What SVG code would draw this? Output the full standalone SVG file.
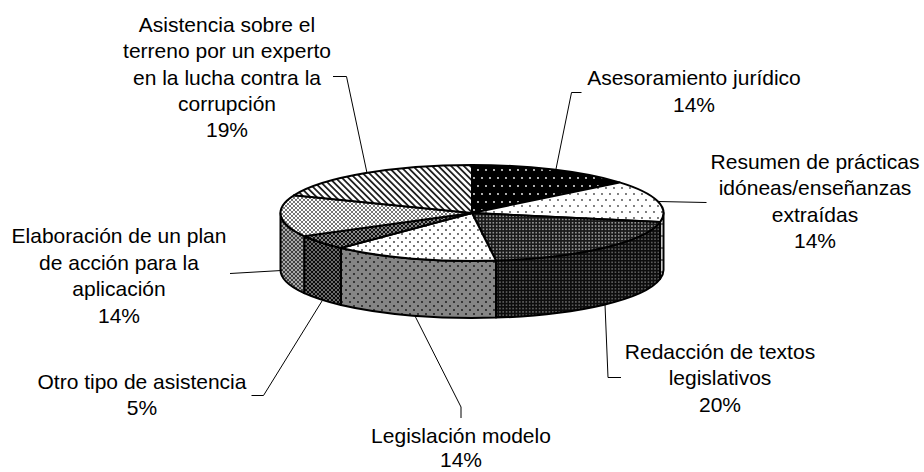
<svg xmlns="http://www.w3.org/2000/svg" width="924" height="472" viewBox="0 0 924 472">
<style>
text{font-family:"Liberation Sans",Arial,sans-serif;font-size:21px;fill:#000;text-anchor:middle}
.lead{fill:none;stroke:#000;stroke-width:1}
.face{stroke:#000;stroke-width:2;stroke-linejoin:round}
</style>
<defs>
<pattern id="pAses" width="8" height="16" patternUnits="userSpaceOnUse">
<rect width="8" height="16" fill="#000"/>
<circle cx="2" cy="2" r="0.9" fill="#fff"/>
<circle cx="6" cy="10" r="0.9" fill="#fff"/>
</pattern>
<pattern id="pRes" width="8" height="12" patternUnits="userSpaceOnUse">
<rect width="8" height="12" fill="#fff"/>
<circle cx="2" cy="2" r="0.9" fill="#444"/>
<circle cx="6" cy="8" r="0.9" fill="#444"/>
</pattern>
<pattern id="pRedTop" width="3.3" height="3.3" patternUnits="userSpaceOnUse">
<rect width="3.3" height="3.3" fill="#1a1a1a"/>
<rect x="0.9" y="0.9" width="1.5" height="1.5" fill="#aaa"/>
</pattern>
<pattern id="pRedSide" width="3.3" height="3.3" patternUnits="userSpaceOnUse">
<rect width="3.3" height="3.3" fill="#0d0d0d"/>
<rect x="0.9" y="0.9" width="1.5" height="1.5" fill="#6a6a6a"/>
</pattern>
<pattern id="pLegTop" width="8" height="8" patternUnits="userSpaceOnUse">
<rect width="8" height="8" fill="#fff"/>
<circle cx="2" cy="2" r="0.9" fill="#333"/>
<circle cx="6" cy="6" r="0.9" fill="#333"/>
</pattern>
<pattern id="pLegSide" width="8" height="8" patternUnits="userSpaceOnUse">
<rect width="8" height="8" fill="#858585"/>
<circle cx="2" cy="2" r="0.9" fill="#111"/>
<circle cx="6" cy="6" r="0.9" fill="#111"/>
</pattern>
<pattern id="pElabTop" width="4" height="4" patternUnits="userSpaceOnUse">
<rect width="4" height="4" fill="#fff"/>
<path d="M0,0 L4,4 M4,0 L0,4" stroke="#666" stroke-width="0.9"/>
</pattern>
<pattern id="pElabSide" width="4" height="4" patternUnits="userSpaceOnUse">
<rect width="4" height="4" fill="#a8a8a8"/>
<path d="M0,0 L4,4 M4,0 L0,4" stroke="#333" stroke-width="0.9"/>
</pattern>
<pattern id="pOtroTop" width="4" height="4" patternUnits="userSpaceOnUse">
<rect width="4" height="4" fill="#888"/>
<path d="M0,0 L4,4 M4,0 L0,4" stroke="#111" stroke-width="1"/>
</pattern>
<pattern id="pOtroSide" width="4" height="4" patternUnits="userSpaceOnUse">
<rect width="4" height="4" fill="#6a6a6a"/>
<path d="M0,0 L4,4 M4,0 L0,4" stroke="#0a0a0a" stroke-width="1"/>
</pattern>
<pattern id="pAsis" width="4.5" height="4.5" patternUnits="userSpaceOnUse" patternTransform="rotate(45)">
<rect width="4.5" height="4.5" fill="#fff"/>
<rect width="4.5" height="1.8" fill="#222"/>
</pattern>
</defs>

<g id="sides">
<path class="face" fill="url(#pRes)" d="M663.5,213 A191.5,48 0 0 1 660.11,222 L660.11,279 A191.5,48 0 0 0 663.5,270 Z"/>
<path class="face" fill="url(#pRedSide)" d="M660.11,222 A191.5,48 0 0 1 496,260.62 L496,317.62 A191.5,48 0 0 0 660.11,279 Z"/>
<path class="face" fill="url(#pLegSide)" d="M496,260.62 A191.5,48 0 0 1 340.91,247.99 L340.91,304.99 A191.5,48 0 0 0 496,317.62 Z"/>
<path class="face" fill="url(#pOtroSide)" d="M340.91,247.99 A191.5,48 0 0 1 304.19,236.12 L304.19,293.12 A191.5,48 0 0 0 340.91,304.99 Z"/>
<path class="face" fill="url(#pElabSide)" d="M304.19,236.12 A191.5,48 0 0 1 280.5,213 L280.5,270 A191.5,48 0 0 0 304.19,293.12 Z"/>
</g>

<g id="slice-asesoramiento">
<path class="face" fill="url(#pAses)" d="M472,213 L472,165 A191.5,48 0 0 1 619.55,182.4 Z"/>
</g>
<g id="slice-resumen">
<path class="face" fill="url(#pRes)" d="M472,213 L619.55,182.4 A191.5,48 0 0 1 660.11,222 Z"/>
</g>
<g id="slice-redaccion">
<path class="face" fill="url(#pRedTop)" d="M472,213 L660.11,222 A191.5,48 0 0 1 496,260.62 Z"/>
</g>
<g id="slice-legislacion">
<path class="face" fill="url(#pLegTop)" d="M472,213 L496,260.62 A191.5,48 0 0 1 340.91,247.99 Z"/>
</g>
<g id="slice-otro">
<path class="face" fill="url(#pOtroTop)" d="M472,213 L340.91,247.99 A191.5,48 0 0 1 304.19,236.12 Z"/>
</g>
<g id="slice-elaboracion">
<path class="face" fill="url(#pElabTop)" d="M472,213 L304.19,236.12 A191.5,48 0 0 1 293.95,195.33 Z"/>
</g>
<g id="slice-asistencia">
<path class="face" fill="url(#pAsis)" d="M472,213 L293.95,195.33 A191.5,48 0 0 1 472,165 Z"/>
</g>

<g id="connectors">
<polyline class="lead" points="333,76.5 346.5,76.5 367,173"/>
<polyline class="lead" points="581.5,92.5 571.5,92.5 556,169"/>
<polyline class="lead" points="658,201.5 706.5,202.5"/>
<polyline class="lead" points="605,304.5 608,377.5 621,377.5"/>
<polyline class="lead" points="461,418 461,407 415,316"/>
<polyline class="lead" points="251.5,395.5 263.5,395.5 322,301"/>
<polyline class="lead" points="230,273.5 281.5,270.5"/>
</g>

<g id="label-asistencia">
<text x="227" y="32">Asistencia sobre el</text>
<text x="227" y="58.3">terreno por un experto</text>
<text x="227" y="84.6">en la lucha contra la</text>
<text x="227" y="110.9">corrupción</text>
<text x="227" y="137.2">19%</text>
</g>
<g id="label-asesoramiento">
<text x="694" y="85">Asesoramiento jurídico</text>
<text x="694" y="111.5">14%</text>
</g>
<g id="label-resumen">
<text x="815" y="168.5">Resumen de prácticas</text>
<text x="815" y="195">idóneas/enseñanzas</text>
<text x="815" y="221.5">extraídas</text>
<text x="815" y="248">14%</text>
</g>
<g id="label-redaccion">
<text x="720" y="358.5">Redacción de textos</text>
<text x="720" y="385">legislativos</text>
<text x="720" y="411.5">20%</text>
</g>
<g id="label-legislacion">
<text x="461" y="443">Legislación modelo</text>
<text x="461" y="467">14%</text>
</g>
<g id="label-otro">
<text x="142" y="388.5">Otro tipo de asistencia</text>
<text x="142" y="415">5%</text>
</g>
<g id="label-elaboracion">
<text x="119" y="243">Elaboración de un plan</text>
<text x="119" y="269.5">de acción para la</text>
<text x="119" y="296">aplicación</text>
<text x="119" y="322.5">14%</text>
</g>
</svg>
